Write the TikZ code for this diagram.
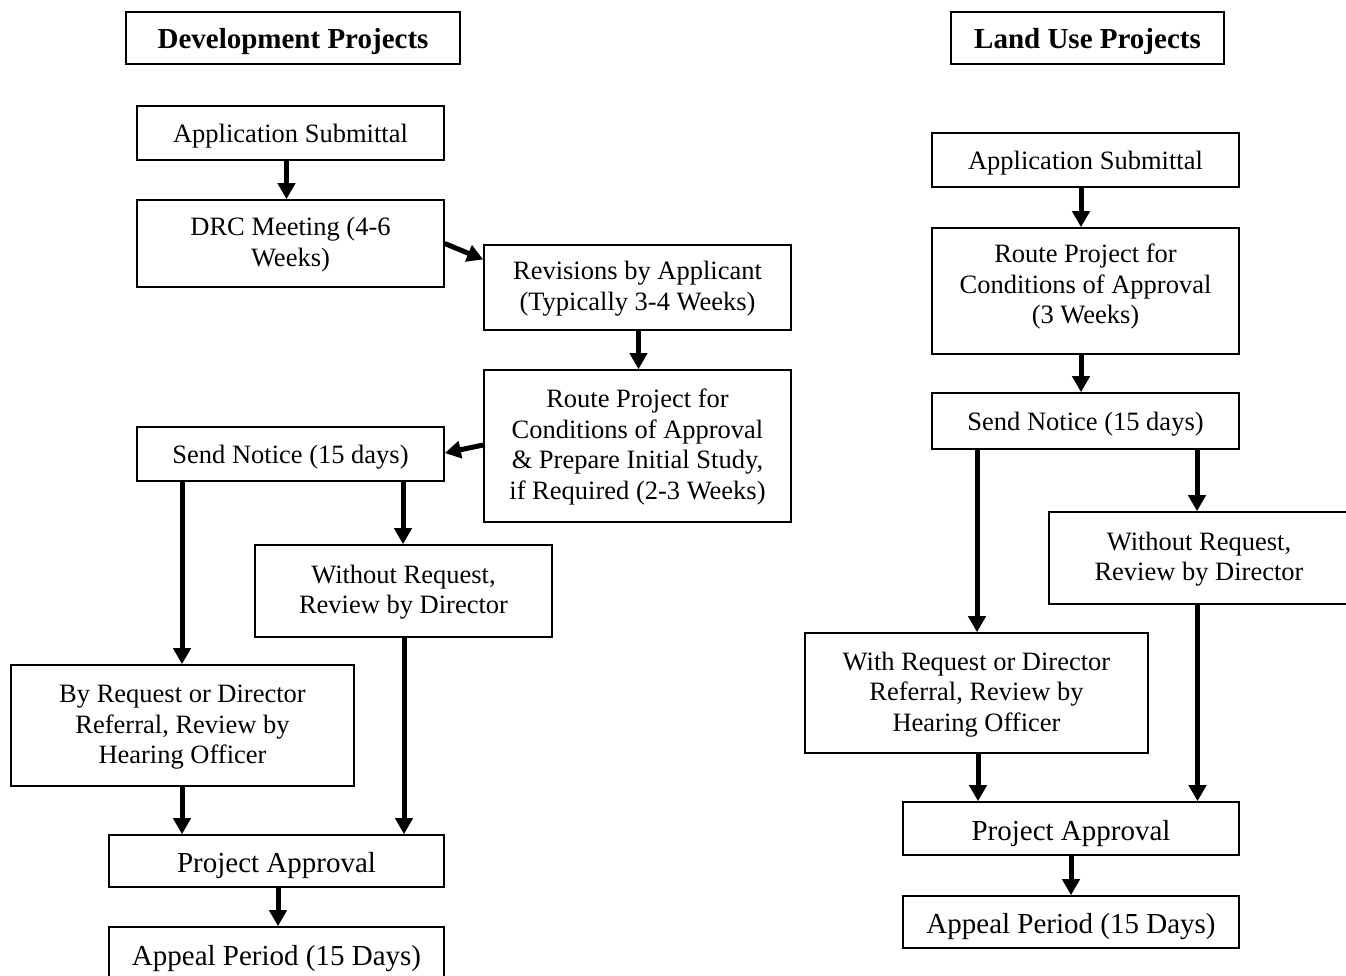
\documentclass[tikz,border=0pt]{standalone}
\usepackage{fontspec}
\setmainfont{Liberation Serif}
\usetikzlibrary{arrows.meta,calc}
\newlength\tshiftlen
\tikzset{
  tshift/.code={\setlength\tshiftlen{#1}},
  boxnode/.style={draw=black,line width=1.6pt,inner sep=0pt,
    font=\fontsize{26.5}{30.5}\selectfont,tshift=1.5pt},
  onenode/.style={boxnode,tshift=3pt},
  bignode/.style={boxnode,font=\fontsize{29}{33}\selectfont,tshift=5pt},
  titlenode/.style={boxnode,font=\fontsize{29}{33}\selectfont\bfseries,tshift=4pt},
  arr/.style={line width=5pt,-{Triangle[length=16pt,width=17pt]}},
}
\newcommand{\bx}[7]{% name, style, x1, y1, x2, y2, text
  \node[#2,minimum width=#5-#3,minimum height=#6-#4] (#1) at ({(#3+#5)/2},{(#4+#6)/2})
    {\raisebox{-\tshiftlen}[\height][\depth]{\begin{tabular}{@{}c@{}}#7\end{tabular}}};}
\begin{document}
\begin{tikzpicture}[x=1pt,y=-1pt]
\useasboundingbox (0,0) rectangle (1346,975);
% ---------- left column ----------
\bx{T1}{titlenode}{126}{12}{460}{64}{Development Projects}
\bx{A1}{onenode}{137}{106}{444}{160}{Application Submittal}
\bx{D1}{boxnode}{137}{200}{444}{287}{DRC Meeting (4-6\\Weeks)}
\bx{R1}{boxnode}{484}{245}{791}{330}{Revisions by Applicant\\(Typically 3-4 Weeks)}
\bx{Q1}{boxnode}{484}{370}{791}{522}{Route Project for\\Conditions of Approval\\\& Prepare Initial Study,\\if Required (2-3 Weeks)}
\bx{S1}{onenode}{137}{427}{444}{481}{Send Notice (15 days)}
\bx{W1}{boxnode}{255}{545}{552}{637}{Without Request,\\Review by Director}
\bx{B1}{boxnode}{11}{665}{354}{786}{By Request or Director\\Referral, Review by\\Hearing Officer}
\bx{P1}{bignode}{109}{835}{444}{887}{Project Approval}
\bx{E1}{bignode}{109}{927}{444}{981}{Appeal Period (15 Days)}
% ---------- right column ----------
\bx{T2}{titlenode}{951}{12}{1224}{64}{Land Use Projects}
\bx{A2}{onenode}{932}{133}{1239}{187}{Application Submittal}
\bx{Q2}{boxnode,tshift=-4pt}{932}{228}{1239}{354}{Route Project for\\Conditions of Approval\\(3 Weeks)}
\bx{S2}{onenode}{932}{393}{1239}{449}{Send Notice (15 days)}
\bx{W2}{boxnode}{1049}{512}{1349}{604}{Without Request,\\Review by Director}
\bx{H2}{boxnode}{805}{633}{1148}{753}{With Request or Director\\Referral, Review by\\Hearing Officer}
\bx{P2}{bignode}{903}{802}{1239}{855}{Project Approval}
\bx{E2}{bignode}{903}{896}{1239}{948}{Appeal Period (15 Days)}
% ---------- left connectors ----------
\path ([xshift=-4pt]A1.south) coordinate (a1);
\draw[arr] (a1) -- (a1 |- D1.north);
\draw[arr] ([yshift=0pt]D1.east) -- ([yshift=28pt]R1.west);
\path ([xshift=1pt]R1.south) coordinate (r1);
\draw[arr] (r1) -- (r1 |- Q1.north);
\draw[arr] ([yshift=1pt]Q1.west) -- ([yshift=1pt]S1.east);
\path ([xshift=-108.5pt]S1.south) coordinate (s1a);
\draw[arr] (s1a) -- (s1a |- B1.north);
\path ([xshift=112.5pt]S1.south) coordinate (s1b);
\draw[arr] (s1b) -- (s1b |- W1.north);
\path ([xshift=-0.5pt]B1.south) coordinate (b1);
\draw[arr] (b1) -- (b1 |- P1.north);
\path ([xshift=0.5pt]W1.south) coordinate (w1);
\draw[arr] (w1) -- (w1 |- P1.north);
\path ([xshift=1.5pt]P1.south) coordinate (p1);
\draw[arr] (p1) -- (p1 |- E1.north);
% ---------- right connectors ----------
\path ([xshift=-4.5pt]A2.south) coordinate (a2);
\draw[arr] (a2) -- (a2 |- Q2.north);
\path ([xshift=-4.5pt]Q2.south) coordinate (q2);
\draw[arr] (q2) -- (q2 |- S2.north);
\path ([xshift=-108.5pt]S2.south) coordinate (s2a);
\draw[arr] (s2a) -- (s2a |- H2.north);
\path ([xshift=111.5pt]S2.south) coordinate (s2b);
\draw[arr] (s2b) -- (s2b |- W2.north);
\path ([xshift=1.5pt]H2.south) coordinate (h2);
\draw[arr] (h2) -- (h2 |- P2.north);
\path ([xshift=-1.5pt]W2.south) coordinate (w2);
\draw[arr] (w2) -- (w2 |- P2.north);
\path ([xshift=0pt]P2.south) coordinate (p2);
\draw[arr] (p2) -- (p2 |- E2.north);
\end{tikzpicture}
\end{document}
